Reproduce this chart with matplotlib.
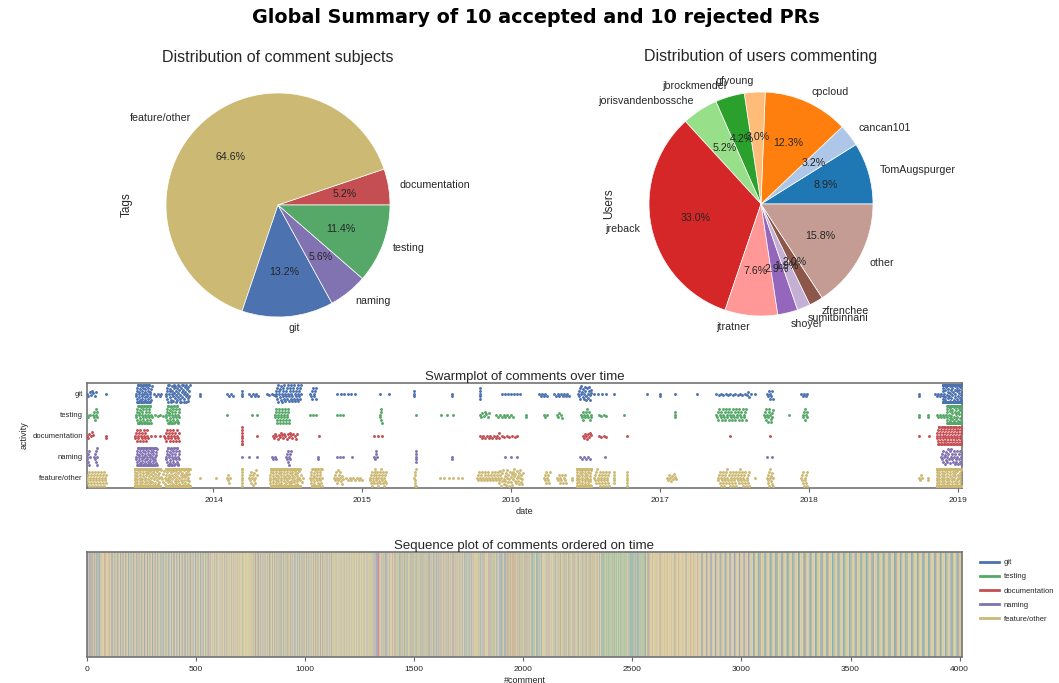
import numpy as np
import matplotlib
matplotlib.use('Agg')
import matplotlib.pyplot as plt
from matplotlib.lines import Line2D
from matplotlib.ticker import MultipleLocator, FormatStrFormatter

plt.rcParams['font.family'] = ['Liberation Sans', 'DejaVu Sans']
plt.rcParams['text.color'] = '.15'
plt.rcParams['axes.labelcolor'] = '.15'
plt.rcParams['xtick.color'] = '.15'
plt.rcParams['ytick.color'] = '.15'

# ---- data ----
tags = ['documentation', 'feature/other', 'git', 'naming', 'testing']
tag_pct = [5.2, 64.6, 13.2, 5.6, 11.4]

users = ['TomAugspurger', 'cancan101', 'cpcloud', 'gfyoung', 'jbrockmendel',
         'jorisvandenbossche', 'jreback', 'jtratner', 'shoyer', 'sumitbinnani',
         'zfrenchee', 'other']
user_pct = [8.9, 3.2, 12.3, 3.0, 4.2, 5.2, 33.0, 7.6, 2.9, 1.9, 2.0, 15.8]

activities = ['git', 'testing', 'documentation', 'naming', 'feature/other']
act_colors = ['#4C72B0', '#55A868', '#C44E52', '#8172B2', '#CCB974']

# comment bursts per activity: (from year, to year, number of comments)
git_bursts = [(2013.15, 2013.21, 8), (2013.28, 2013.28, 1), (2013.48, 2013.58, 55),
              (2013.59, 2013.65, 6), (2013.68, 2013.84, 60), (2013.91, 2013.91, 2),
              (2014.09, 2014.13, 4), (2014.19, 2014.19, 3), (2014.24, 2014.30, 6),
              (2014.36, 2014.42, 5), (2014.42, 2014.59, 55), (2014.65, 2014.69, 10),
              (2014.83, 2014.95, 6), (2015.12, 2015.18, 2), (2015.35, 2015.35, 3),
              (2015.60, 2015.60, 2), (2015.79, 2015.79, 5), (2015.94, 2016.04, 6),
              (2016.06, 2016.06, 1), (2016.19, 2016.24, 6), (2016.29, 2016.39, 10),
              (2016.45, 2016.54, 25), (2016.56, 2016.64, 4), (2016.69, 2016.69, 1),
              (2016.91, 2016.91, 1), (2017.00, 2017.00, 2), (2017.10, 2017.10, 1),
              (2017.25, 2017.25, 1), (2017.38, 2017.60, 15), (2017.59, 2017.64, 3),
              (2017.72, 2017.76, 8), (2017.95, 2017.99, 5), (2018.74, 2018.74, 2),
              (2018.85, 2018.90, 6), (2018.90, 2019.03, 200)]
testing_bursts = [(2013.15, 2013.17, 3), (2013.19, 2013.22, 8), (2013.48, 2013.58, 50),
                  (2013.59, 2013.66, 5), (2013.68, 2013.77, 40), (2014.09, 2014.09, 1),
                  (2014.26, 2014.29, 2), (2014.41, 2014.51, 30), (2014.65, 2014.69, 3),
                  (2014.83, 2014.87, 3), (2015.12, 2015.13, 6), (2015.36, 2015.36, 1),
                  (2015.53, 2015.61, 3), (2015.79, 2015.85, 8), (2015.90, 2016.01, 10),
                  (2016.10, 2016.10, 2), (2016.22, 2016.24, 3), (2016.31, 2016.34, 5),
                  (2016.47, 2016.54, 14), (2016.59, 2016.64, 4), (2016.76, 2016.76, 1),
                  (2017.10, 2017.10, 3), (2017.38, 2017.58, 45), (2017.70, 2017.76, 16),
                  (2017.87, 2017.87, 1), (2017.96, 2017.99, 8), (2018.74, 2018.74, 2),
                  (2018.80, 2018.80, 2), (2018.86, 2018.93, 8), (2018.93, 2019.03, 170)]
doc_bursts = [(2013.15, 2013.19, 6), (2013.28, 2013.28, 2), (2013.47, 2013.56, 22),
              (2013.58, 2013.64, 3), (2013.67, 2013.77, 24), (2014.19, 2014.19, 8),
              (2014.29, 2014.29, 1), (2014.40, 2014.56, 22), (2014.71, 2014.71, 1),
              (2015.08, 2015.13, 3), (2015.79, 2015.92, 12), (2015.92, 2016.04, 8),
              (2016.48, 2016.54, 9), (2016.59, 2016.64, 4), (2016.78, 2016.78, 1),
              (2017.47, 2017.47, 1), (2017.74, 2017.74, 1), (2018.74, 2018.81, 2),
              (2018.86, 2019.03, 79)]
naming_bursts = [(2013.15, 2013.17, 7), (2013.20, 2013.22, 8), (2013.48, 2013.62, 85),
                 (2013.68, 2013.77, 40), (2014.19, 2014.29, 3), (2014.39, 2014.42, 4),
                 (2014.49, 2014.52, 10), (2014.70, 2014.70, 2), (2014.83, 2014.87, 3),
                 (2014.93, 2014.93, 1), (2015.08, 2015.10, 5), (2015.36, 2015.36, 5),
                 (2015.60, 2015.60, 2), (2015.96, 2016.04, 3), (2016.46, 2016.53, 6),
                 (2016.63, 2016.63, 1), (2017.72, 2017.75, 2), (2018.89, 2019.03, 38)]
feature_bursts = [(2013.15, 2013.28, 40), (2013.47, 2013.64, 450), (2013.64, 2013.68, 10),
                  (2013.68, 2013.84, 380), (2013.91, 2013.91, 1), (2014.02, 2014.02, 1),
                  (2014.09, 2014.11, 5), (2014.19, 2014.19, 8), (2014.24, 2014.29, 14),
                  (2014.38, 2014.58, 230), (2014.58, 2014.60, 4), (2014.65, 2014.73, 40),
                  (2014.81, 2014.87, 15), (2014.89, 2015.00, 10), (2015.05, 2015.16, 35),
                  (2015.35, 2015.36, 8), (2015.52, 2015.67, 6), (2015.77, 2015.92, 30),
                  (2015.92, 2016.08, 45), (2016.22, 2016.26, 10), (2016.31, 2016.37, 12),
                  (2016.41, 2016.41, 2), (2016.44, 2016.54, 150), (2016.56, 2016.66, 30),
                  (2016.69, 2016.69, 5), (2016.78, 2016.78, 6), (2017.05, 2017.11, 10),
                  (2017.39, 2017.60, 60), (2017.64, 2017.64, 1), (2017.72, 2017.76, 14),
                  (2017.95, 2017.99, 12), (2018.74, 2018.76, 4), (2018.80, 2018.80, 2),
                  (2018.86, 2019.03, 940)]
all_bursts = [git_bursts, testing_bursts, doc_bursts, naming_bursts, feature_bursts]


def expand(bursts):
    return np.concatenate([np.linspace(a, b, n) for a, b, n in bursts])


def swarm_offsets(xpx, d, half):
    # simple beeswarm in pixel units, overflow is pushed to the band edge
    order = np.argsort(xpx, kind='stable')
    out = np.zeros(len(xpx))
    px, py = [], []
    start = 0
    flip = 1
    for i in order:
        x = xpx[i]
        while start < len(px) and px[start] < x - d:
            start += 1
        nx = np.array(px[start:])
        ny = np.array(py[start:])
        if len(nx) == 0:
            y = 0.0
        else:
            dx = x - nx
            dy = np.sqrt(np.maximum(d * d - dx * dx, 0))
            cands = np.concatenate(([0.0], ny + dy, ny - dy))
            cands = cands[np.argsort(np.abs(cands), kind='stable')]
            ok = ((dx[None, :] ** 2 + (cands[:, None] - ny[None, :]) ** 2) >= d * d - 1e-6).all(axis=1)
            y = cands[np.argmax(ok)] if ok.any() else half + 1
        if abs(y) > half:
            out[i] = flip * half
            flip = -flip
        else:
            out[i] = y
            px.append(x)
            py.append(y)
    return out


W, H = 1059, 683
fig = plt.figure(figsize=(W / 100, H / 100), dpi=100)
fig.suptitle('Global Summary of 10 accepted and 10 rejected PRs', x=0.506, y=0.974,
             va='center', fontsize=13.8, fontweight='bold', family='DejaVu Sans', color='black')

# ---- pies ----
tag_cols = [act_colors[activities.index(t)] for t in tags]
ax1 = fig.add_axes([138 / W, 1 - 345 / H, 280 / W, 280 / H])
ax1.pie(tag_pct, labels=tags, colors=tag_cols, autopct='%1.1f%%', startangle=0,
        wedgeprops=dict(edgecolor='white', linewidth=0.5),
        textprops=dict(fontsize=7.7, color='.15'))
ax1.set_title('Distribution of comment subjects', fontsize=11.5, pad=2)
ax1.set_ylabel('Tags', fontsize=8.5)

ax2 = fig.add_axes([621 / W, 1 - 344 / H, 280 / W, 280 / H])
user_cols = plt.get_cmap('tab20')(np.arange(len(users)))
ax2.pie(user_pct, labels=users, colors=user_cols, autopct='%1.1f%%', startangle=0,
        wedgeprops=dict(edgecolor='white', linewidth=0.5),
        textprops=dict(fontsize=7.7, color='.15'))
ax2.set_title('Distribution of users commenting', fontsize=11.5, pad=2)
ax2.set_ylabel('Users', fontsize=8.5)

# ---- swarm ----
ax3 = fig.add_axes([87 / W, 1 - 488 / H, 875 / W, 105 / H])
years = [expand(b) for b in all_bursts]
x_min = min(y.min() for y in years)
x_max = max(y.max() for y in years)
ax3.set_xlim(x_min, x_max)
ax3.set_ylim(len(activities) - 0.5, -0.5)
px_per_year = 875 / (x_max - x_min)
px_per_row = 105 / len(activities)
for k, (yrs, col) in enumerate(zip(years, act_colors)):
    off = swarm_offsets((yrs - x_min) * px_per_year, 2.9, 0.42 * px_per_row)
    ax3.scatter(yrs, k + off / px_per_row, s=4.4, color=col, linewidths=0, zorder=3)
ax3.set_yticks(range(len(activities)))
ax3.set_yticklabels(activities, fontsize=5.5)
ax3.xaxis.set_major_locator(MultipleLocator(1))
ax3.xaxis.set_major_formatter(FormatStrFormatter('%d'))
ax3.tick_params(axis='x', labelsize=6, length=3, width=0.8, color='.4')
ax3.tick_params(axis='y', length=0, pad=3)
ax3.set_xlabel('date', fontsize=6.5, labelpad=2)
ax3.set_ylabel('activity', fontsize=6.5, labelpad=3)
ax3.set_title('Swarmplot of comments over time', fontsize=9.5, pad=2)

# ---- sequence ----
# comments ordered on their day, same-day comments grouped by activity
all_years = np.concatenate(years)
all_act = np.concatenate([np.full(len(y), k) for k, y in enumerate(years)])
day = np.floor(all_years * 365)
seq = all_act[np.lexsort((all_act, day))]
ax4 = fig.add_axes([87 / W, 1 - 657 / H, 875 / W, 105 / H])
ax4.vlines(np.arange(len(seq)), 0, 1, colors=[act_colors[k] for k in seq],
           linewidth=0.8, alpha=0.17)
ax4.set_xlim(0, len(seq))
ax4.set_ylim(0, 1)
ax4.set_yticks([])
ax4.xaxis.set_major_locator(MultipleLocator(500))
ax4.tick_params(axis='x', labelsize=6, length=3, width=0.8, color='.4')
ax4.set_xlabel('#comment', fontsize=6.5, labelpad=2)
ax4.set_title('Sequence plot of comments ordered on time', fontsize=9.5, pad=2)
handles = [Line2D([0], [0], color=c, lw=2) for c in act_colors]
ax4.legend(handles, activities, loc='upper left', bbox_to_anchor=(1.013, 1.0),
           frameon=False, fontsize=5.5, handlelength=2.5, handletextpad=0.6,
           labelspacing=0.9)

for ax in (ax3, ax4):
    for sp in ax.spines.values():
        sp.set_color('.45')
        sp.set_linewidth(1.2)

fig.savefig('out.png', dpi=100)
